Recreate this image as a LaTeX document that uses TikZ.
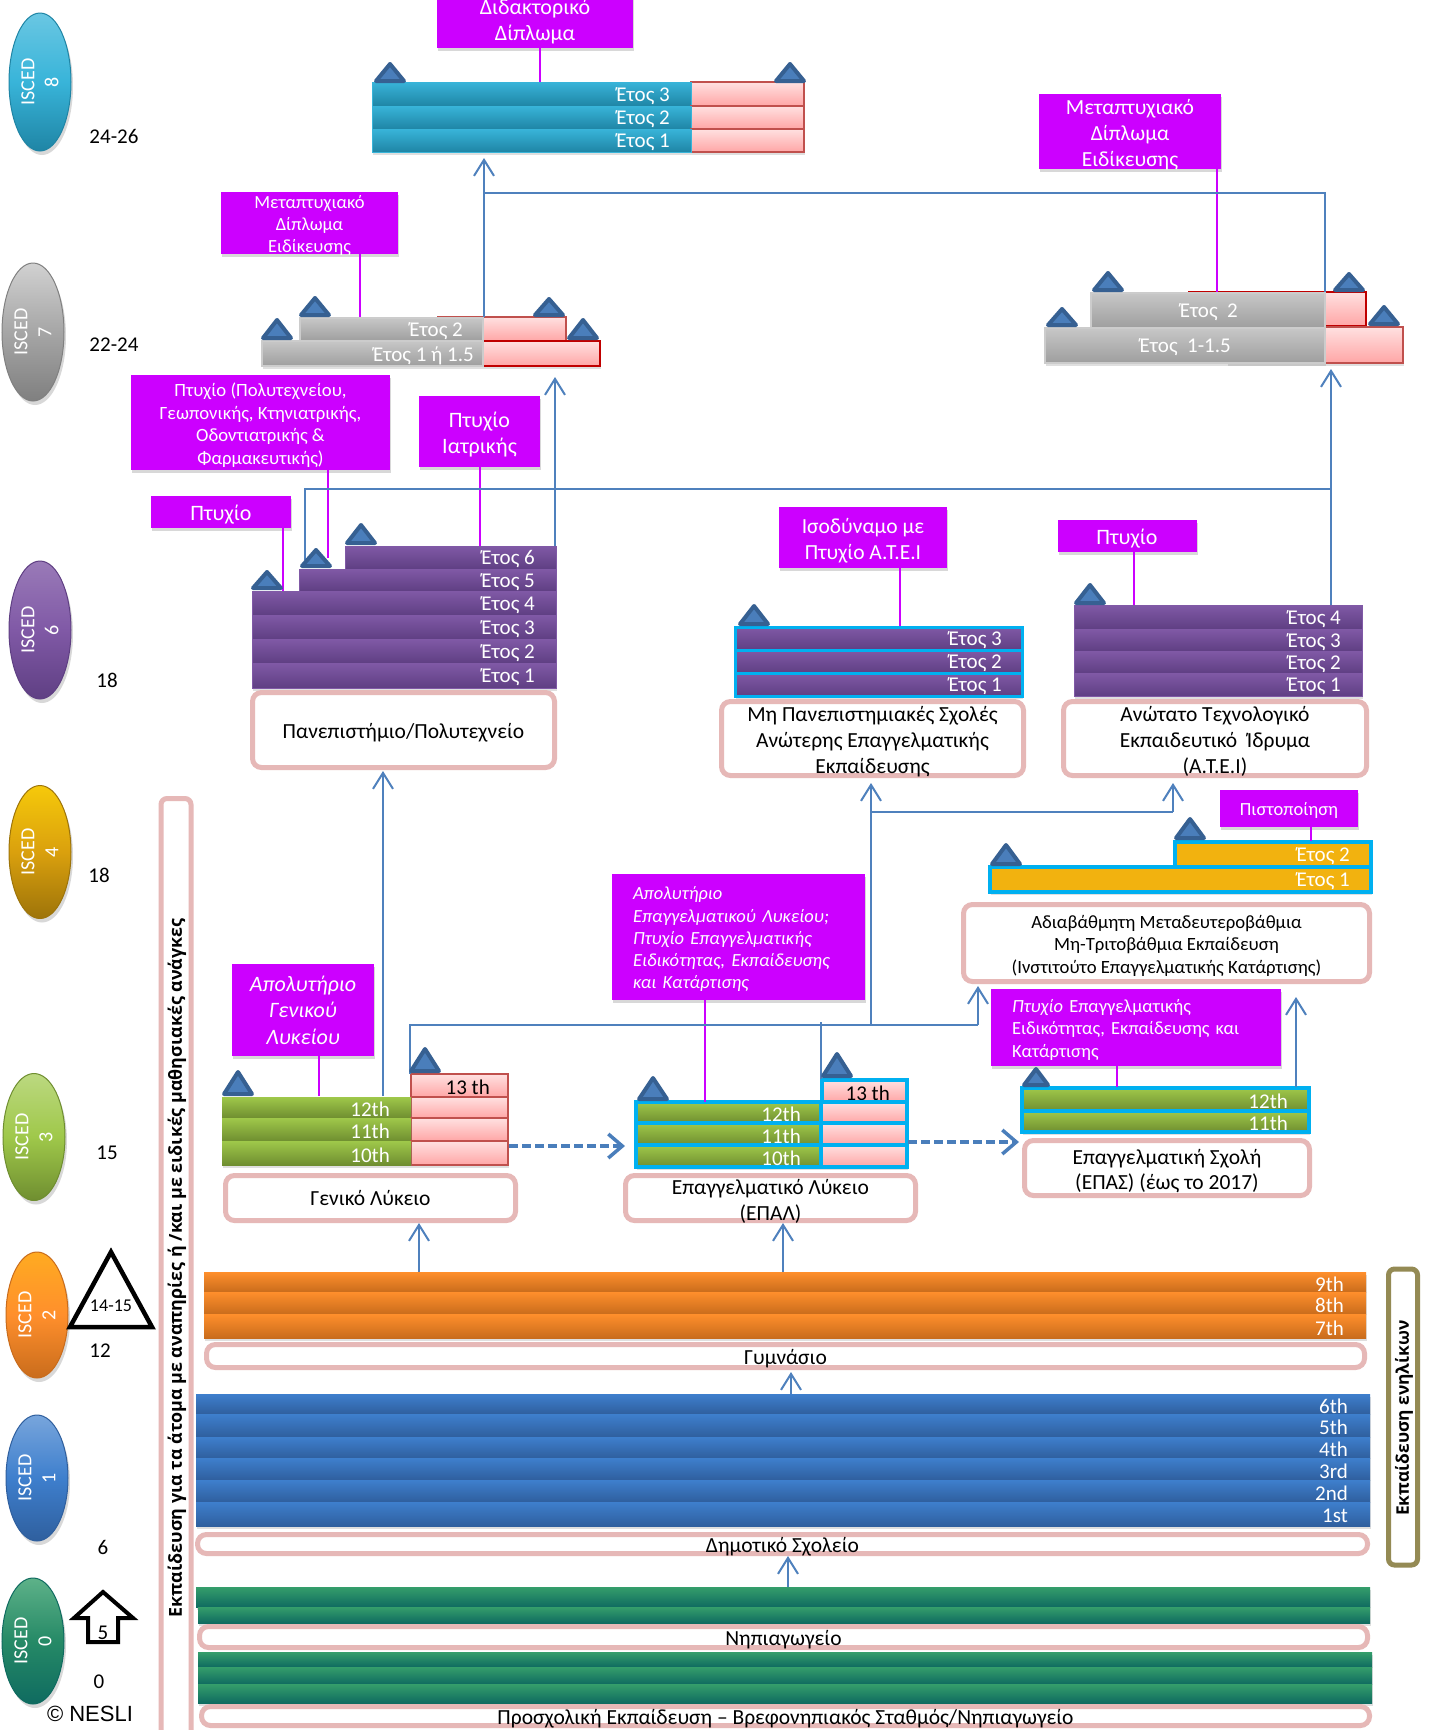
\documentclass[tikz,border=0pt]{standalone}
\usepackage{fontspec}
\setmainfont{Carlito}
\newfontfamily\arialfont{Liberation Sans}
\newfontfamily\sidefont{Open Sans}
\usepackage{tikz}
\usetikzlibrary{positioning,shapes.geometric,shadows,arrows.meta}

\definecolor{mag}{HTML}{CC00FF}
\definecolor{boxpink}{HTML}{E6B8B7}
\definecolor{linkblue}{HTML}{4F81BD}
\definecolor{cy}{HTML}{00B0F0}
\definecolor{triout}{HTML}{366092}
\definecolor{triin}{HTML}{4A7EBB}
\definecolor{tealtop}{HTML}{38B4D9}
\definecolor{tealbot}{HTML}{1F85A5}
\definecolor{purtop}{HTML}{8059A6}
\definecolor{purbot}{HTML}{5F3F83}
\definecolor{grntop}{HTML}{9FC84A}
\definecolor{grnbot}{HTML}{6F8E30}
\definecolor{orgtop}{HTML}{FF8F2C}
\definecolor{orgbot}{HTML}{C96C1C}
\definecolor{blutop}{HTML}{3E7FCD}
\definecolor{blubot}{HTML}{2F5F9E}
\definecolor{dgtop}{HTML}{359E6B}
\definecolor{dgbot}{HTML}{0F6B60}
\definecolor{yel}{HTML}{F2B20F}
\definecolor{olv}{HTML}{948A54}
\definecolor{pinkline}{HTML}{C0504D}
\definecolor{redline}{HTML}{C00000}

\newcommand{\fs}[1]{\pgfmathsetmacro\fsb{#1*1.2}\fontsize{#1}{\fsb}\selectfont}
\newcommand{\lift}{\rule{0pt}{1em}}
% one bar of a stack: style, name, x1, y1, x2, y2, right end of text, text
\newcommand{\yrow}[8]{%
  \node[#1,rowbox,minimum width=#5-#3,minimum height=#6-#4] (#2) at (#3,#4) {};
  \node[rowtext] (#2t) at (#7,{(#4+#6)/2+2}) {#8};}

\tikzset{
  rowbox/.style={rectangle,anchor=north west,inner sep=0pt,outer sep=0pt,
    drop shadow={opacity=.25,shadow xshift=1pt,shadow yshift=-3pt}},
  rowtext/.style={anchor=east,inner sep=0pt,text=white,font=\fs{21}},
  tealrow/.style={top color=tealtop,bottom color=tealbot,draw=tealtop,line width=1},
  greyrow/.style={top color=black!22,bottom color=black!38,draw=black!20,line width=1.5},
  purprow/.style={top color=purtop,bottom color=purbot,draw=purtop,line width=.8},
  purcy/.style={top color=purtop,bottom color=purbot,draw=cy,line width=3},
  greenrow/.style={top color=grntop,bottom color=grnbot,draw=none},
  greency/.style={top color=grntop,bottom color=grnbot,draw=cy,line width=3.5},
  yelrow/.style={fill=yel,draw=cy,line width=3.5},
  pinkrow/.style={top color=red!12,bottom color=red!35,draw=pinkline,line width=2},
  redrow/.style={top color=red!12,bottom color=red!35,draw=redline,line width=2},
  pinkcy/.style={top color=red!12,bottom color=red!35,draw=cy,line width=3.5},
  orgrow/.style={top color=orgtop,bottom color=orgbot,draw=none},
  blurow/.style={top color=blutop,bottom color=blubot,draw=none},
  dgrow/.style={top color=dgtop,bottom color=dgbot,draw=none},
  lowtext/.style={execute at begin node={\rule{0pt}{.95em}}},
  magbox/.style={rectangle,fill=mag,text=white,align=center,inner xsep=0pt,inner ysep=-6pt,lowtext,
    drop shadow={opacity=.3,shadow xshift=1pt,shadow yshift=-3pt}},
  schbox/.style={rectangle,rounded corners=9,draw=boxpink,line width=5,fill=white,align=center,
    inner ysep=-8pt,inner xsep=0pt,font=\fs{21.5},lowtext},
  isced/.style n args={3}{ellipse,rotate=90,minimum width=138,minimum height=62,inner sep=0pt,
    top color=#1,bottom color=#3,middle color=#2,draw=#3,line width=1,align=center,text=white,font=\fs{20},
    drop shadow={opacity=.3,shadow xshift=2pt,shadow yshift=-4pt}},
  age/.style={inner sep=0pt,font=\fs{21}},
  stem/.style={draw=mag,line width=2},
  link/.style={draw=linkblue,line width=2},
  up/.style={link,-{Straight Barb[length=16pt,width=20pt,line width=2pt]}},
  dashlink/.style={draw=triin,line width=3.5,dash pattern=on 9pt off 4pt,
    -{Straight Barb[length=14pt,width=24pt,line width=3.5pt]}},
  tri/.style={draw=triout,fill=triin,line width=4,line join=round}
}

\begin{document}
\begin{tikzpicture}[x=1pt,y=-1pt]
\useasboundingbox (0,0) rectangle (1440,1730);
\fill[white] (0,0) rectangle (1440,1730);

% levels on the left
\node[isced={tealtop!75!white}{tealtop}{tealbot}] (i8) at (40,82) {ISCED\\8};
\node[isced={black!18}{black!35}{black!50}] (i7) at (33,332) {ISCED\\7};
\node[isced={purtop!80!white}{purtop}{purbot}] (i6) at (40,630) {ISCED\\6};
\node[isced={yel!70!yellow}{yel!90!black}{yel!65!black},minimum width=133] (i4) at (40,852) {ISCED\\4};
\node[isced={grntop!70!white}{grntop}{grnbot},minimum width=127] (i3) at (34,1137) {ISCED\\3};
\node[isced={orgtop!75!yellow}{orgtop}{orgbot},minimum width=126] (i2) at (37,1315) {ISCED\\2};
\node[isced={blutop!70!white}{blutop}{blubot},minimum width=126] (i1) at (37,1478) {ISCED\\1};
\node[isced={dgtop!80!white}{dgtop!60!dgbot}{dgbot},minimum width=126] (i0) at (33,1641) {ISCED\\0};

\node[age] (a8) at (114,136) {24-26};
\node[age] (a7) at (114,345) {22-24};
\node[age] (a6) at (107,680) {18};
\node[age] (a4) at (99,875) {18};
\node[age] (a3) at (107,1153) {15};
\node[age] (a2) at (100,1351) {12};
\node[age] (a1) at (103,1547) {6};
\node[age] (a0) at (99,1682) {0};
\node[inner sep=0pt,font=\arialfont\fs{22}] (nesli) at (90,1714) {© NESLI};

\draw[line width=4.5,line join=miter] (111,1252) -- (70,1327) -- (152,1327) -- cycle;
\node[age,font=\fs{18}] (t1415) at (111,1306) {14-15};
\draw[line width=4,line join=miter] (103,1592) -- (133,1618) -- (118,1618) -- (118,1642) -- (88,1642) -- (88,1618) -- (74,1618) -- cycle;
\node[age] (t5) at (103,1633) {5};

% side frames
\node[schbox,rounded corners=6,minimum width=30,minimum height=980,anchor=north] (special) at (176,796) {};
\node[rotate=90,inner sep=0pt,font=\sidefont\bfseries\fs{17.85}] (specialt) at (177,1268) {Εκπαίδευση για τα άτομα με αναπηρίες ή /και με ειδικές μαθησιακές ανάγκες};
\node[schbox,draw=olv,rounded corners=6,minimum width=29,minimum height=296] (adult) at (1403,1417) {};
\node[rotate=90,inner sep=0pt,font=\sidefont\bfseries\fs{17.35}] (adultt) at (1404,1418) {Εκπαίδευση ενηλίκων};

% doctorate
\foreach \n/\ya/\yb/\t in {a/82/106/Έτος 3,b/106/129/Έτος 2,c/129/152/Έτος 1}{
  \yrow{pinkrow}{dp\n}{691}{\ya}{804}{\yb}{760}{}
  \yrow{tealrow}{d\n}{372}{\ya}{691}{\yb}{670}{\t}
}
\node[magbox,minimum width=196,minimum height=60,font=\fs{22}] (doc) at (535,18) {\lift Διδακτορικό\\Δίπλωμα};

% masters, left
\yrow{pinkrow}{mp2}{438}{317}{566}{341}{500}{}
\yrow{redrow}{mp1}{483}{341}{600}{366}{560}{}
\yrow{greyrow}{m2}{300}{318}{483}{341}{463}{Έτος 2}
\yrow{greyrow}{m1}{262}{341}{483}{366}{474}{Έτος 1 ή 1.5}
\node[magbox,minimum width=177,minimum height=62,font=\fs{18.5}] (mbox) at (309.5,223) {\lift Μεταπτυχιακό\\Δίπλωμα\\Ειδίκευσης};

% masters, right
\yrow{redrow}{np2}{1189}{292}{1366}{326}{1300}{}
\yrow{pinkrow}{np1}{1227}{327}{1403}{363}{1300}{}
\yrow{greyrow}{n2}{1091}{293}{1325}{328}{1238}{Έτος\ \ 2}
\yrow{greyrow}{n1}{1045}{328}{1325}{363}{1231}{Έτος\ \ 1-1.5}
\node[magbox,minimum width=182,minimum height=75,font=\fs{21.5}] (nbox) at (1130,131.5) {\lift Μεταπτυχιακό\\Δίπλωμα\\Ειδίκευσης};

% university
\yrow{purprow}{u6}{345}{546}{556}{569}{535}{Έτος 6}
\yrow{purprow}{u5}{299}{569}{556}{591}{535}{Έτος 5}
\foreach \n/\ya/\yb/\t in {4/591/615/Έτος 4,3/615/639/Έτος 3,2/639/663/Έτος 2,1/663/688/Έτος 1}{
  \yrow{purprow}{u\n}{252}{\ya}{556}{\yb}{535}{\t}
}
\node[schbox,minimum width=302,minimum height=75] (uni) at (403.5,730) {Πανεπιστήμιο/Πολυτεχνείο};
\node[magbox,minimum width=259,minimum height=95,font=\fs{18.7}] (dbox) at (260.5,422.5) {\lift Πτυχίο (Πολυτεχνείου,\\Γεωπονικής, Κτηνιατρικής,\\Οδοντιατρικής \&\\Φαρμακευτικής)};
\node[magbox,minimum width=121,minimum height=71,font=\fs{22}] (iatr) at (479.5,431.5) {\lift Πτυχίο\\Ιατρικής};
\node[magbox,minimum width=140,minimum height=32,font=\fs{22}] (ptyx) at (221,512) {Πτυχίο};

% higher vocational schools
\foreach \n/\ya/\yb/\t in {3/627/650/Έτος 3,2/650/673/Έτος 2,1/673/696/Έτος 1}{
  \yrow{purcy}{s\n}{735}{\ya}{1022}{\yb}{1002}{\t}
}
\node[schbox,minimum width=302,minimum height=74] (school) at (872.5,738.5) {\lift Μη Πανεπιστημιακές Σχολές\\Ανώτερης Επαγγελματικής\\Εκπαίδευσης};
\node[magbox,minimum width=168,minimum height=61,font=\fs{21.5}] (ison) at (863,537.5) {\lift Ισοδύναμο με\\Πτυχίο Α.Τ.Ε.Ι};

% A.T.E.I
\foreach \n/\ya/\yb/\t in {4/605/629/Έτος 4,3/629/651/Έτος 3,2/651/673/Έτος 2,1/673/696/Έτος 1}{
  \yrow{purprow}{t\n}{1074}{\ya}{1362}{\yb}{1341}{\t}
}
\node[schbox,minimum width=303,minimum height=74] (atei) at (1215,738.5) {\lift Ανώτατο Τεχνολογικό\\Εκπαιδευτικό\ \ Ίδρυμα\\(Α.Τ.Ε.Ι)};
\node[magbox,minimum width=139,minimum height=32,font=\fs{22}] (ptyx2) at (1127,536) {Πτυχίο};

% post secondary
\yrow{yelrow}{y2}{1175}{842}{1371}{867}{1350}{Έτος 2}
\yrow{yelrow}{y1}{990}{867}{1371}{892}{1350}{Έτος 1}
\node[schbox,minimum width=406,minimum height=77,font=\fs{18.7}] (post) at (1166.5,943) {\lift Αδιαβάθμητη Μεταδευτεροβάθμια\\Μη-Τριτοβάθμια Εκπαίδευση\\(Ινστιτούτο Επαγγελματικής Κατάρτισης)};
\node[magbox,minimum width=138,minimum height=37,font=\fs{18.5}] (cert) at (1289,808.5) {Πιστοποίηση};

% general lyceum
\yrow{pinkrow}{gp13}{411}{1074}{508}{1097}{490}{\color{black}13 th}
\foreach \n/\ya/\yb/\t in {12/1097/1118/12th,11/1118/1141/11th,10/1141/1165/10th}{
  \yrow{pinkrow}{gp\n}{411}{\ya}{508}{\yb}{490}{}
  \yrow{greenrow}{g\n}{222}{\ya}{411}{\yb}{390}{\t}
}
\node[schbox,minimum width=290,minimum height=45] (gen) at (370.5,1198) {};
\node[inner sep=0pt,font=\fs{21.5}] (gent) at (370.5,1198) {Γενικό Λύκειο};
\node[magbox,minimum width=142,minimum height=92,font=\itshape\fs{22}] (gbox) at (303,1010) {Απολυτήριο\\Γενικού\\Λυκείου};

% vocational lyceum
\yrow{pinkcy}{ep13}{822}{1080}{907}{1102}{890}{\color{black}13 th}
\foreach \n/\ya/\yb/\t in {12/1102/1123/12th,11/1123/1145/11th,10/1145/1167/10th}{
  \yrow{pinkcy}{ep\n}{821}{\ya}{907}{\yb}{890}{}
  \yrow{greency}{e\n}{636}{\ya}{821}{\yb}{801}{\t}
}
\node[schbox,minimum width=290,minimum height=45] (epal) at (770.5,1198) {\lift Επαγγελματικό Λύκειο\\(ΕΠΑΛ)};
\node[magbox,minimum width=253,minimum height=126,font=\fs{18.5},align=left,inner xsep=21pt,text width=211pt] (ebox) at (738.5,937) {\itshape Απολυτήριο\\\itshape Επαγγελματικού Λυκείου;\\Πτυχίο Επαγγελματικής\\Ειδικότητας, Εκπαίδευσης\\και Κατάρτισης};

% vocational school
\yrow{greency}{v12}{1022}{1088}{1309}{1111}{1288}{12th}
\yrow{greency}{v11}{1022}{1111}{1309}{1132}{1288}{11th}
\node[schbox,minimum width=285,minimum height=55] (epas) at (1167,1168) {\lift Επαγγελματική Σχολή\\(ΕΠΑΣ) (έως το 2017)};
\node[magbox,minimum width=290,minimum height=77,font=\fs{18.5},align=left,inner xsep=21pt,text width=248pt] (vbox) at (1136,1027.5) {{\itshape Πτυχίο} Επαγγελματικής\\Ειδικότητας, Εκπαίδευσης και\\Κατάρτισης};

% lower school bars
\foreach \n/\ya/\yb/\t in {9/1272/1292/9th,8/1292/1314/8th,7/1314/1338/7th}{
  \yrow{orgrow}{o\n}{204}{\ya}{1366}{\yb}{1344}{\t}
}
\node[schbox,minimum width=1158,minimum height=23] (gym) at (785.5,1356) {Γυμνάσιο};
\foreach \n/\ya/\yb/\t in {6/1394/1414/6th,5/1414/1437/5th,4/1437/1458/4th,3/1458/1480/3rd,2/1480/1502/2nd,1/1502/1526/1st}{
  \yrow{blurow}{p\n}{196}{\ya}{1370}{\yb}{1348}{\t}
}
\node[schbox,minimum width=1170,minimum height=19] (dim) at (782.5,1544) {Δημοτικό Σχολείο};
\yrow{dgrow}{k2}{196}{1587}{1370}{1607}{1300}{}
\yrow{dgrow}{k1}{198}{1607}{1370}{1623}{1300}{}
\node[schbox,minimum width=1168,minimum height=21] (nip) at (783.5,1637) {Νηπιαγωγείο};
\yrow{dgrow}{b3}{198}{1652}{1372}{1667}{1300}{}
\yrow{dgrow}{b2}{198}{1667}{1372}{1684}{1300}{}
\yrow{dgrow}{b1}{198}{1684}{1372}{1703}{1300}{}
\node[schbox,minimum width=1168,minimum height=19] (pre) at (785.5,1716) {Προσχολική Εκπαίδευση – Βρεφονηπιακός Σταθμός/Νηπιαγωγείο};

% stems from the titles
\coordinate (s1) at (540,82);
\coordinate (s2) at (360,317);
\coordinate (s3) at (1217,292);
\coordinate (s4) at (328,558);
\coordinate (s5) at (480,546);
\coordinate (s6) at (283,591);
\coordinate (s7) at (900,626);
\coordinate (s8) at (1134,605);
\coordinate (s9) at (1311,841);
\coordinate (s10) at (705,1102);
\coordinate (s11) at (319,1096);
\coordinate (s12) at (1117,1087);
\draw[stem] (doc.south -| s1) -- (s1);
\draw[stem] (mbox.south -| s2) -- (s2);
\draw[stem] (nbox.south -| s3) -- (s3);
\draw[stem] (dbox.south -| s4) -- (s4);
\draw[stem] (iatr.south -| s5) -- (s5);
\draw[stem] (ptyx.south -| s6) -- (s6);
\draw[stem] (ison.south -| s7) -- (s7);
\draw[stem] (ptyx2.south -| s8) -- (s8);
\draw[stem] (cert.south -| s9) -- (s9);
\draw[stem] (ebox.south -| s10) -- (s10);
\draw[stem] (gbox.south -| s11) -- (s11);
\draw[stem] (vbox.south -| s12) -- (s12);

% links between the levels
\coordinate (l1) at (484,317);
\coordinate (l1a) at (484,193);
\coordinate (l1b) at (1325,193);
\coordinate (l1c) at (1325,292);
\coordinate (l2) at (555,546);
\coordinate (l3) at (1331,605);
\coordinate (l3a) at (1331,489);
\coordinate (l3b) at (305,489);
\coordinate (l3c) at (305,560);
\coordinate (l4) at (383,1096);
\coordinate (l5) at (871,1025);
\coordinate (l5a) at (871,812);
\coordinate (l5b) at (1173,812);
\coordinate (l6) at (410,1074);
\coordinate (l6a) at (410,1025);
\coordinate (l6b) at (978,1025);
\coordinate (l7) at (821,1079);
\coordinate (l7a) at (821,1022);
\coordinate (l8) at (1296,1087);
\coordinate (l9) at (419,1272);
\coordinate (l10) at (783,1272);
\coordinate (l11) at (791,1394);
\coordinate (l12) at (788,1587);
\draw[up,shorten >=6pt] (l1) -- (dc.south -| l1);
\draw[link] (l1a) -- (l1b) -- (l1c);
\draw[up,shorten >=11pt] (l2) -- (mp1.south -| l2);
\draw[up,shorten >=6pt] (l3) -- (np1.south -| l3);
\draw[link] (l3c) -- (l3b) -- (l3a);
\draw[up,shorten >=1pt] (l4) -- (uni.south -| l4);
\draw[up,shorten >=5pt] (l5) -- (school.south -| l5);
\draw[up,shorten >=5pt] (l5b) -- (atei.south -| l5b);
\draw[link] (l5a) -- (l5b);
\draw[link] (l6) -- (l6a) -- (l6b);
\draw[up,shorten >=2pt] (l6b) -- (post.south -| l6b);
\draw[link] (l7) -- (l7a);
\draw[up,shorten >=13pt] (l8) -- (post.south -| l8);
\draw[up] (l9) -- (gen.south -| l9);
\draw[up] (l10) -- (epal.south -| l10);
\draw[up,shorten >=2pt] (l11) -- (gym.south -| l11);
\draw[up] (l12) -- (dim.south -| l12);
\coordinate (da) at (509,1146);
\coordinate (db) at (908,1142);
\draw[dashlink,shorten >=11pt] (da) -- (da -| e10.west);
\draw[dashlink,shorten >=3pt] (db) -- (db -| v11.west);

% start markers
\foreach \x/\yt/\yb in {390/64/81,790/64/81,315/298/315,277/320/338,549/299/315,583/320/338,
  1108/273/290,1062/309/325,1349/274/290,1384/307/324,361/525/543,316/550/566,267/572/588,
  754/606/624,1090/585/603,1190/819/838,1006/845/864,425/1049/1071,238/1072/1094,
  837/1054/1076,653/1078/1099}{
  \draw[tri] (\x-14,\yb) -- (\x,\yt) -- (\x+14,\yb) -- cycle;
}
\draw[tri] (1036-12,1085) -- (1036,1069) -- (1036+12,1085) -- cycle;
\end{tikzpicture}
\end{document}
